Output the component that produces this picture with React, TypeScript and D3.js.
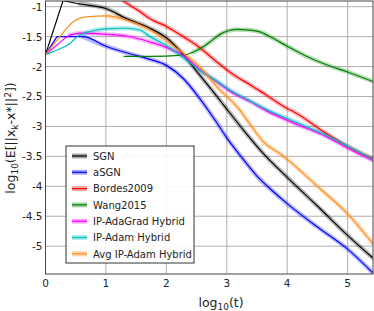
import React, { useEffect, useRef } from 'react';
import * as d3 from 'd3';

type Pt = [number, number];

const xTicks = [0, 1, 2, 3, 4, 5];
const yTicks = [-1, -1.5, -2, -2.5, -3, -3.5, -4, -4.5, -5];

const sgn: Pt[] = [
  [0, -1.8], [0.29, -0.9], [0.57, -0.955], [1.0, -1.03], [1.34, -1.2], [1.73, -1.36],
  [2.0, -1.52], [2.28, -1.8], [2.55, -2.14], [2.83, -2.49], [3.0, -2.71], [3.3, -3.09],
  [3.63, -3.48], [4.0, -3.85], [4.5, -4.33], [5.0, -4.82], [5.42, -5.2],
];
const asgn: Pt[] = [
  [0, -1.8], [0.19, -1.5], [0.62, -1.5], [1.0, -1.66], [1.34, -1.77], [1.73, -1.88],
  [2.0, -1.98], [2.28, -2.2], [2.55, -2.53], [2.83, -2.93], [3.0, -3.19], [3.21, -3.47],
  [3.5, -3.83], [3.75, -4.07], [4.0, -4.29], [4.5, -4.68], [5.0, -5.05], [5.42, -5.45],
];
const bordes: Pt[] = [
  [1.2, -0.84], [1.29, -0.905], [1.56, -1.08], [1.73, -1.2], [2.0, -1.33], [2.28, -1.5],
  [2.55, -1.68], [2.83, -1.92], [3.1, -2.13], [3.38, -2.3], [3.66, -2.48], [4.0, -2.7],
  [4.1, -2.75], [4.65, -3.12], [5.0, -3.33], [5.42, -3.54],
];
const wang: Pt[] = [
  [1.29, -1.83], [1.73, -1.83], [2.28, -1.81], [2.44, -1.76], [2.61, -1.67], [2.77, -1.55],
  [2.91, -1.45], [3.0, -1.41], [3.16, -1.38], [3.38, -1.39], [3.55, -1.42], [3.75, -1.52],
  [4.0, -1.66], [4.3, -1.82], [4.65, -1.97], [5.0, -2.09], [5.42, -2.25],
];
const ipAdaGrad: Pt[] = [
  [0, -1.8], [0.2, -1.63], [0.4, -1.48], [0.6, -1.44], [1.0, -1.46], [1.34, -1.49],
  [1.73, -1.59], [2.0, -1.68], [2.28, -1.82], [2.55, -2.05], [2.83, -2.25], [3.1, -2.44],
  [3.38, -2.58], [3.66, -2.74], [4.1, -2.94], [4.65, -3.17], [5.0, -3.36], [5.42, -3.57],
];
const ipAdam: Pt[] = [
  [0, -1.8], [0.2, -1.72], [0.4, -1.62], [0.55, -1.48], [0.75, -1.41], [1.0, -1.37],
  [1.34, -1.36], [1.56, -1.39], [1.73, -1.5], [2.0, -1.65], [2.28, -1.85], [2.55, -2.06],
  [2.83, -2.24], [3.1, -2.42], [3.38, -2.57], [3.66, -2.72], [4.1, -2.91], [4.65, -3.15],
  [5.0, -3.33], [5.42, -3.55],
];
const avgIpAdam: Pt[] = [
  [0, -1.8], [0.24, -1.5], [0.46, -1.25], [0.68, -1.17], [1.01, -1.155], [1.34, -1.22],
  [1.73, -1.39], [2.28, -1.78], [2.55, -2.0], [2.83, -2.33], [3.21, -2.72], [3.41, -3.0],
  [3.6, -3.25], [3.9, -3.47], [4.0, -3.55], [4.5, -4.0], [5.0, -4.46], [5.42, -4.96],
];

const seriesNames = ['SGN', 'aSGN', 'Bordes2009', 'Wang2015', 'IP-AdaGrad Hybrid', 'IP-Adam Hybrid', 'Avg IP-Adam Hybrid'];
const seriesData = [sgn, asgn, bordes, wang, ipAdaGrad, ipAdam, avgIpAdam];
const seriesColors = ['#000000', '#0000ff', '#ff0000', '#008000', '#ff00ff', '#00bfbf', '#ff8c1a'];
// shaded band only visible from this log10(t) onward
const bandStart = [0.57, 0.62, 1.2, 2.3, 0.4, 0.55, 0.9];

const App: React.FC = () => {
  const svgRef = useRef<SVGSVGElement | null>(null);

  useEffect(() => {
    if (!svgRef.current) return;
    const svg = d3.select(svgRef.current);
    svg.selectAll('*').remove();

    const width = 374;
    const height = 311;
    const margin = { top: 1, right: 1, bottom: 37, left: 45.5 };
    const font = 'DejaVu Sans, sans-serif';

    const xScale = d3.scaleLinear().domain([0, 5.42]).range([margin.left, width - margin.right]);
    const yScale = d3.scaleLinear().domain([-5.465, -0.905]).range([height - margin.bottom, margin.top]);

    const [x0, x1] = xScale.range();
    const [y0, y1] = [yScale(-0.905), yScale(-5.465)];

    // clip
    svg.append('defs').append('clipPath').attr('id', 'plotClip')
      .append('rect').attr('x', x0).attr('y', y0).attr('width', x1 - x0).attr('height', y1 - y0);

    // grid
    const grid = svg.append('g');
    grid.selectAll('line.vx').data(xTicks.slice(1)).enter().append('line')
      .attr('x1', d => xScale(d)).attr('x2', d => xScale(d))
      .attr('y1', y0).attr('y2', y1)
      .attr('stroke', '#b0b0b0').attr('stroke-width', 1);
    grid.selectAll('line.hy').data(yTicks).enter().append('line')
      .attr('x1', x0).attr('x2', x1)
      .attr('y1', d => yScale(d)).attr('y2', d => yScale(d))
      .attr('stroke', '#b0b0b0').attr('stroke-width', 1);

    // tick labels
    svg.append('g').selectAll('text').data(xTicks).enter().append('text')
      .attr('x', d => xScale(d)).attr('y', y1 + 13)
      .attr('text-anchor', 'middle').attr('font-family', font).attr('font-size', 10.5)
      .attr('fill', '#222').text(d => String(d));
    svg.append('g').selectAll('text').data(yTicks).enter().append('text')
      .attr('x', x0 - 3).attr('y', d => yScale(d) + 4)
      .attr('text-anchor', 'end').attr('font-family', font).attr('font-size', 10.5)
      .attr('fill', '#222').text(d => String(d));

    // lines
    const smooth = d3.line<Pt>()
      .x(d => xScale(d[0]))
      .y(d => yScale(d[1]))
      .curve(d3.curveMonotoneX);
    const straight = d3.line<Pt>()
      .x(d => xScale(d[0]))
      .y(d => yScale(d[1]));
    // SGN and aSGN start with a straight jump, then a smooth descent
    const pathFor = (i: number, data: Pt[]) =>
      (i === 0 || i === 1) && data[0][0] === 0
        ? straight(data.slice(0, 2)) + (smooth(data.slice(1)) || '').replace(/^M/, 'L')
        : smooth(data);

    const plot = svg.append('g').attr('clip-path', 'url(#plotClip)');
    seriesData.forEach((data, i) => {
      const part = data.filter(d => d[0] >= bandStart[i]);
      plot.append('path').attr('d', pathFor(i, part)).attr('fill', 'none')
        .attr('stroke', seriesColors[i]).attr('stroke-opacity', 0.28).attr('stroke-width', 4.5)
        .attr('stroke-linejoin', 'round').attr('stroke-linecap', 'round');
    });
    seriesData.forEach((data, i) => {
      plot.append('path').attr('d', pathFor(i, data)).attr('fill', 'none')
        .attr('stroke', seriesColors[i]).attr('stroke-width', 1.2)
        .attr('stroke-linejoin', 'round');
    });

    // frame
    svg.append('rect').attr('x', x0).attr('y', y0).attr('width', x1 - x0).attr('height', y1 - y0)
      .attr('fill', 'none').attr('stroke', '#444').attr('stroke-width', 1);

    // legend
    const lg = svg.append('g').attr('transform', 'translate(66,146)');
    lg.append('rect').attr('width', 128).attr('height', 117)
      .attr('fill', 'white').attr('fill-opacity', 0.9).attr('stroke', '#333').attr('stroke-width', 1);
    seriesNames.forEach((name, i) => {
      const yy = 10 + i * 16.3;
      lg.append('line').attr('x1', 6).attr('x2', 21).attr('y1', yy).attr('y2', yy)
        .attr('stroke', seriesColors[i]).attr('stroke-opacity', 0.35).attr('stroke-width', 5);
      lg.append('line').attr('x1', 6).attr('x2', 21).attr('y1', yy).attr('y2', yy)
        .attr('stroke', seriesColors[i]).attr('stroke-width', 1.2);
      lg.append('text').attr('x', 27).attr('y', yy + 3.8)
        .attr('font-family', font).attr('font-size', 10).attr('fill', '#222').text(name);
    });

    // axis labels
    const xl = svg.append('text').attr('x', 221).attr('y', 307)
      .attr('text-anchor', 'middle').attr('font-family', font).attr('font-size', 12.5).attr('fill', '#222');
    xl.append('tspan').text('log');
    xl.append('tspan').attr('font-size', 9).attr('dy', 3).text('10');
    xl.append('tspan').attr('dy', -3).text('(t)');

    const yl = svg.append('text').attr('transform', 'translate(15,138) rotate(-90)')
      .attr('text-anchor', 'middle').attr('font-family', font).attr('font-size', 12.5).attr('fill', '#222');
    yl.append('tspan').text('log');
    yl.append('tspan').attr('font-size', 9).attr('dy', 3).text('10');
    yl.append('tspan').attr('dy', -3).text('(E[||x');
    yl.append('tspan').attr('font-size', 9).attr('dy', 3).text('k');
    yl.append('tspan').attr('dy', -3).text('-x*||');
    yl.append('tspan').attr('font-size', 9).attr('dy', -4).text('2');
    yl.append('tspan').attr('dy', 4).text('])');
  }, []);

  return (
    <svg ref={svgRef} width={374} height={311}
      style={{ position: 'absolute', left: 0, top: 0, background: 'white' }}></svg>
  );
};

export default App;
